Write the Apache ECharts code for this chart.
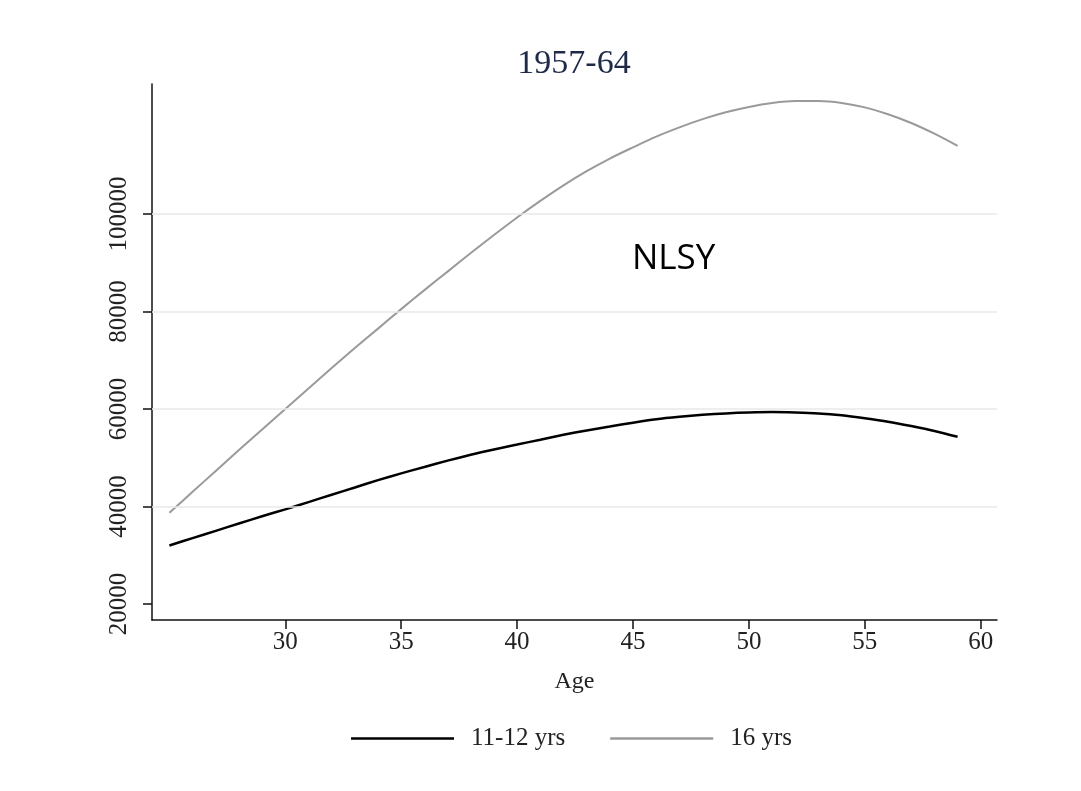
<!DOCTYPE html>
<html>
<head>
<meta charset="utf-8">
<script src="https://cdn.jsdelivr.net/npm/echarts@6/dist/echarts.min.js"></script>
<style>
  html, body { margin: 0; padding: 0; background: #fff; }
  #chart { width: 1081px; height: 791px; }
</style>
</head>
<body>
<div id="chart"></div>
<script>
// ages
const ages = [25, 26, 27, 28, 29, 30, 31, 32, 33, 34, 35, 36, 37, 38, 39, 40, 41, 42,
    43, 44, 45, 46, 47, 48, 49, 50, 51, 52, 53, 54, 55, 56, 57, 58, 59];
// 11-12 yrs of schooling
const lowEdu = [32000, 33500, 35000, 36500, 38000, 39400, 40900, 42400, 43900, 45400,
    46800, 48100, 49400, 50600, 51700, 52700, 53700, 54700, 55600, 56400,
    57200, 57900, 58400, 58800, 59100, 59300, 59400, 59300, 59100, 58700,
    58100, 57400, 56500, 55500, 54300];
// 16 yrs of schooling
const highEdu = [38700, 43000, 47300, 51600, 55800, 60000, 64200, 68400, 72500, 76500,
    80500, 84400, 88200, 92000, 95700, 99300, 102700, 105900, 108800, 111400,
    113700, 115900, 117800, 119500, 120900, 122000, 122800, 123200, 123200, 122800,
    121900, 120500, 118700, 116500, 114000];

const xTicks = [30, 35, 40, 45, 50, 55, 60];
const yTicks = [20000, 40000, 60000, 80000, 100000];
const gridValues = [40000, 60000, 80000, 100000];
const seriesNames = ['11-12 yrs', '16 yrs'];

const serif = 'Liberation Serif';

const pairs = (ys) => ages.map((a, i) => [a, ys[i]]);

const myChart = echarts.init(document.getElementById('chart'));

const option = {
    backgroundColor: '#fff',
    animation: false,
    title: {
        text: '1957-64',
        left: 569,
        top: 42,
        textAlign: 'center',
        textStyle: {
            fontFamily: serif,
            fontWeight: 'normal',
            fontSize: 34,
            color: '#1e2a48'
        }
    },
    grid: {
        left: 152,
        right: 84,
        top: 84,
        bottom: 171
    },
    legend: {
        left: 346,
        top: 721,
        icon: 'rect',
        itemWidth: 103,
        itemHeight: 2.5,
        itemGap: 45,
        data: seriesNames,
        textStyle: {
            fontFamily: serif,
            fontSize: 25,
            color: '#222',
            padding: [0, 0, 0, 12]
        }
    },
    xAxis: {
        type: 'value',
        min: 24.25,
        max: 60.7,
        name: 'Age',
        nameLocation: 'middle',
        nameGap: 50,
        nameTextStyle: {
            fontFamily: serif,
            fontSize: 24,
            color: '#222'
        },
        axisLine: { show: true, lineStyle: { color: '#111', width: 1.5 } },
        axisTick: {
            show: true,
            length: 9,
            customValues: xTicks,
            lineStyle: { color: '#111', width: 1.5 }
        },
        axisLabel: {
            customValues: xTicks,
            margin: 10,
            fontFamily: serif,
            fontSize: 25,
            color: '#222'
        },
        splitLine: { show: false }
    },
    yAxis: {
        type: 'value',
        min: 16700,
        max: 126700,
        axisLine: { show: true, lineStyle: { color: '#111', width: 1.5 } },
        axisTick: {
            show: true,
            length: 9,
            customValues: yTicks,
            lineStyle: { color: '#111', width: 1.5 }
        },
        axisLabel: {
            customValues: yTicks,
            formatter: (v) => String(v),
            rotate: 90,
            margin: 20,
            fontFamily: serif,
            fontSize: 25,
            color: '#222'
        },
        splitLine: { show: false }
    },
    graphic: [
        {
            type: 'text',
            left: 632,
            top: 242,
            style: {
                text: 'NLSY',
                font: '35px "Open Sans", sans-serif',
                fill: '#000'
            }
        }
    ],
    series: [
        {
            name: seriesNames[0],
            type: 'line',
            data: pairs(lowEdu),
            smooth: 0.3,
            showSymbol: false,
            symbol: 'none',
            color: '#000',
            lineStyle: { color: '#000', width: 2.5 },
            z: 3,
            markLine: {
                silent: true,
                symbol: 'none',
                label: { show: false },
                lineStyle: { color: '#e9e9e9', width: 1.5, type: 'solid' },
                data: gridValues.map(v => ({ yAxis: v }))
            }
        },
        {
            name: seriesNames[1],
            type: 'line',
            data: pairs(highEdu),
            smooth: 0.3,
            showSymbol: false,
            symbol: 'none',
            color: '#9a9a9a',
            lineStyle: { color: '#9a9a9a', width: 2 },
            z: 3
        }
    ]
};

myChart.setOption(option);
</script>
</body>
</html>
